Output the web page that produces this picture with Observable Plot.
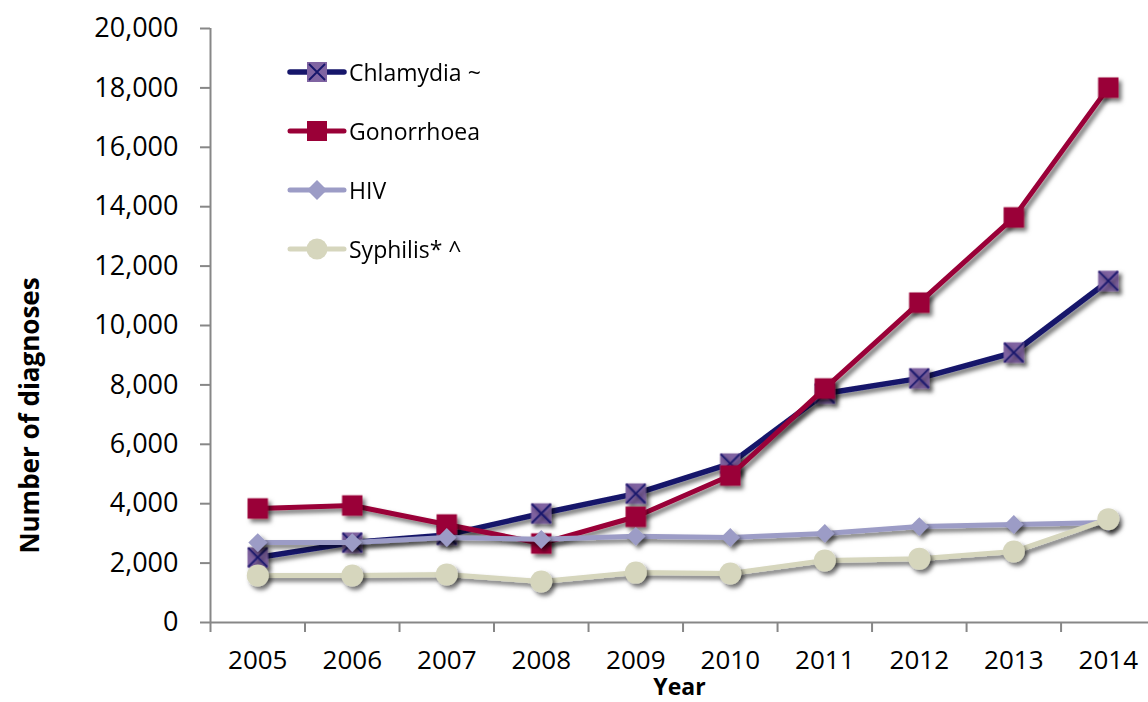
<!DOCTYPE html>
<html>
<head>
<meta charset="utf-8">
<script src="https://cdn.jsdelivr.net/npm/d3@7"></script>
<script src="https://cdn.jsdelivr.net/npm/@observablehq/plot@0.6"></script>
<style>
  html, body { margin: 0; padding: 0; background: #fff; }
  #wrap { position: relative; width: 1148px; height: 702px; font-family: "Open Sans", sans-serif; }
  #legend { position: absolute; left: 288px; top: 56px; }
  .row { display: flex; align-items: center; height: 32px; margin-bottom: 27px; font-size: 23px; color: #000; }
  .row svg { margin-right: 3px; overflow: visible; }
</style>
</head>
<body>
<div id="wrap"></div>
<script>
const years = [2005, 2006, 2007, 2008, 2009, 2010, 2011, 2012, 2013, 2014];
const chlamydia   = [2190, 2690, 2950, 3670, 4340, 5350, 7710, 8220, 9090, 11500];
const gonorrhoea  = [3840, 3940, 3300, 2660, 3560, 4950, 7880, 10770, 13640, 18010];
const hiv         = [2690, 2690, 2860, 2800, 2900, 2860, 3000, 3230, 3300, 3370];
const syphilis    = [1580, 1580, 1620, 1380, 1680, 1650, 2090, 2150, 2390, 3480];
const yTicks = [0, 2000, 4000, 6000, 8000, 10000, 12000, 14000, 16000, 18000, 20000];
const seriesNames = ["Chlamydia ~", "Gonorrhoea", "HIV", "Syphilis* ^"];

const rows = (vals) => years.map((y, i) => ({year: y, value: vals[i]}));
const C = {chl: "#16166b", chlFill: "#8064a2", gon: "#9a0037", hiv: "#9c9cc6", syp: "#d6d6bd", axis: "#878787"};

const halfTicks = years.map(y => y - 0.5);

const plot = Plot.plot({
  width: 1148, height: 702,
  marginLeft: 210, marginTop: 28, marginBottom: 80, marginRight: 0,
  style: {fontFamily: "'Open Sans', sans-serif", background: "#fff", overflow: "visible"},
  x: {type: "linear", domain: [2004.5, 2014.425], axis: null},
  y: {domain: [0, 20000], axis: null},
  marks: [
    Plot.axisY({ticks: yTicks, tickSize: 10, tickPadding: 22, tickFormat: d3.format(","), fontSize: 27, stroke: C.axis, strokeWidth: 2, color: "#000", label: null}),
    Plot.axisX({ticks: halfTicks, tickSize: 10, tickFormat: () => "", stroke: C.axis, strokeWidth: 2, label: null}),
    Plot.axisX({ticks: years, tickSize: 0, tickPadding: 28, tickFormat: d => String(d), fontSize: 26, color: "#000", label: null}),
    Plot.ruleX([2004.5], {y1: 0, y2: 20000, stroke: C.axis, strokeWidth: 2}),
    Plot.ruleY([0], {x1: 2004.5, x2: 2014.425, stroke: C.axis, strokeWidth: 2}),
    Plot.text(["Number of diagnoses"], {frameAnchor: "left", textAnchor: "middle", rotate: -90, dx: -180, dy: 90, fontSize: 26, fontWeight: "bold", fill: "#000"}),
    Plot.text(["Year"], {frameAnchor: "bottom", dy: 72, fontSize: 23, fontWeight: "bold", fill: "#000"}),

    Plot.line(rows(chlamydia), {x: "year", y: "value", stroke: C.chl, strokeWidth: 5.5}),
    Plot.dot(rows(chlamydia), {x: "year", y: "value", symbol: "square", r: 11.5, fill: C.chlFill}),
    Plot.dot(rows(chlamydia), {x: "year", y: "value", symbol: "times", r: 8.7, stroke: C.chl, strokeWidth: 1.8}),

    Plot.line(rows(gonorrhoea), {x: "year", y: "value", stroke: C.gon, strokeWidth: 5}),
    Plot.dot(rows(gonorrhoea), {x: "year", y: "value", symbol: "square", r: 11.5, fill: C.gon}),

    Plot.line(rows(hiv), {x: "year", y: "value", stroke: C.hiv, strokeWidth: 5}),
    Plot.dot(rows(hiv), {x: "year", y: "value", symbol: "diamond2", r: 8.5, fill: C.hiv}),

    Plot.line(rows(syphilis), {x: "year", y: "value", stroke: C.syp, strokeWidth: 5}),
    Plot.dot(rows(syphilis), {x: "year", y: "value", symbol: "circle", r: 11, fill: C.syp})
  ]
});

// drop shadows like the original
const svg = d3.select(plot);
const defs = svg.insert("defs", ":first-child");
const f = defs.append("filter").attr("id", "shadow")
  .attr("filterUnits", "userSpaceOnUse").attr("x", 0).attr("y", 0).attr("width", 1148).attr("height", 702);
f.append("feDropShadow").attr("dx", 3).attr("dy", 3.5).attr("stdDeviation", 2.2).attr("flood-color", "#000").attr("flood-opacity", 0.55);
svg.selectAll('g[aria-label="line"], g[aria-label="dot"]').attr("filter", "url(#shadow)");

const wrap = document.getElementById("wrap");
wrap.appendChild(plot);

// legend
const legendSwatches = [
  `<line x1="2" y1="16" x2="56" y2="16" stroke="${C.chl}" stroke-width="5.5" stroke-linecap="round"/><rect x="19" y="6" width="20" height="20" fill="${C.chlFill}"/><path d="M21 8L37 24M37 8L21 24" stroke="${C.chl}" stroke-width="1.8"/>`,
  `<line x1="2" y1="16" x2="56" y2="16" stroke="${C.gon}" stroke-width="5" stroke-linecap="round"/><rect x="19" y="6" width="20" height="20" fill="${C.gon}"/>`,
  `<line x1="2" y1="16" x2="56" y2="16" stroke="${C.hiv}" stroke-width="5" stroke-linecap="round"/><path d="M29 6L39 16L29 26L19 16Z" fill="${C.hiv}"/>`,
  `<line x1="2" y1="16" x2="56" y2="16" stroke="${C.syp}" stroke-width="5" stroke-linecap="round"/><circle cx="29" cy="16" r="10.5" fill="${C.syp}"/>`
];
const legend = document.createElement("div");
legend.id = "legend";
legend.innerHTML = seriesNames.map((n, i) =>
  `<div class="row"><svg width="58" height="32">${legendSwatches[i]}</svg><span>${n}</span></div>`).join("");
wrap.appendChild(legend);
</script>
</body>
</html>
